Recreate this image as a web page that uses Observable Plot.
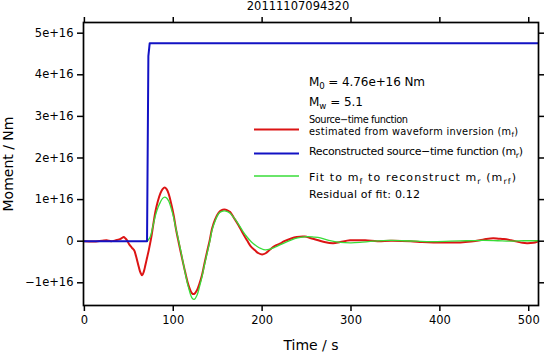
<!DOCTYPE html>
<html><head><meta charset="utf-8">
<script src="https://cdn.jsdelivr.net/npm/d3@7"></script>
<script src="https://cdn.jsdelivr.net/npm/@observablehq/plot@0.6"></script>
<style>
html,body{margin:0;padding:0;background:#fff;}
svg text{font-family:"DejaVu Sans",sans-serif;}
</style>
</head><body><div id="chart"></div>
<script>
// ---- text ----
const title = "20111107094320";
const xLabel = "Time / s";
const yLabel = "Moment / Nm";
const M0text = "4.76e+16 Nm";
const MwText = "5.1";
const residualText = "0.12";

// ---- scales / ticks ----
const UNIT = 1e16;                 // values below are in units of 1e16 Nm
const xTicks = [0, 100, 200, 300, 400, 500];
const yTicks = [-1, 0, 1, 2, 3, 4, 5];

// ---- series: source-time function estimated from waveform inversion (m_f) ----
const redT = [0,10,20,25,30,35,40,42.4,44.2,46,48,50,52,54,56,58,61,63,65,67,68.6,70.5,72.4,75,77.5,80,82.5,85.5,88,90.4,92.5,94.8,97.5,100.5,103,106,110,113.6,117,121,123.5,126.7,129.5,132.3,135,138,141,143.6,147,151,154,157.5,161,164,168,173.6,178,183,187,192,196,200,204,209,214,220,225,232,239,248,255,262,270,280,288,299,316,330,345,367,380,393,410,423,435,445,452,460,466,472,480,487,493,498,505,511];
const redV = [0,-0.01,0.01,0.02,0,0.02,0.05,0.08,0.1,0.07,0.02,-0.06,-0.12,-0.17,-0.22,-0.35,-0.6,-0.75,-0.82,-0.72,-0.58,-0.4,-0.22,0.06,0.4,0.72,0.95,1.15,1.25,1.29,1.25,1.14,0.92,0.62,0.3,-0.02,-0.42,-0.76,-1.05,-1.25,-1.27,-1.18,-1.02,-0.82,-0.55,-0.26,0.02,0.3,0.52,0.68,0.74,0.76,0.74,0.7,0.57,0.38,0.2,0.02,-0.12,-0.22,-0.29,-0.32,-0.29,-0.2,-0.12,-0.06,0,0.06,0.1,0.11,0.07,0.03,-0.02,-0.05,-0.02,0.02,0.02,0,0.01,0,-0.02,-0.03,-0.03,-0.03,-0.01,0.02,0.05,0.07,0.06,0.05,0.02,-0.01,-0.04,-0.05,-0.04,0];

// ---- reconstructed source-time function (m_r) ----
const blueT = [0, 70.5, 72, 73.5, 511];
const blueV = [0, 0, 4.45, 4.76, 4.76];

// ---- fit to m_f to reconstruct m_r (m_rf) ----
const greenT = [71,74,77,80,83,85.5,88,90.4,92.5,95,97.5,100.5,103,106,110,113.6,117,121,123.5,126.7,129.5,132.3,135,138,141,143.6,147,151,154,157.5,161,164,168,173.6,178,183,188,194,199,203.6,209,215,222,231.7,240,250,258,265.5,275,288,300,310,325,344,360,374,390,412,430,449,465,479,495,511];
const greenV = [0,0.1,0.35,0.62,0.82,0.94,1.03,1.06,1.04,0.96,0.8,0.56,0.3,0.02,-0.4,-0.78,-1.1,-1.36,-1.4,-1.3,-1.1,-0.86,-0.58,-0.3,-0.02,0.26,0.48,0.66,0.71,0.73,0.71,0.67,0.57,0.4,0.25,0.1,-0.02,-0.12,-0.18,-0.21,-0.19,-0.14,-0.07,0.02,0.08,0.11,0.1,0.08,0.02,-0.03,-0.04,-0.03,0,0.02,0.01,0,-0.01,0,0.01,0.02,0.01,0,0.01,0.01];

const colRed = "#dc1414", colBlue = "#1212c4", colGreen = "#38dc38";

const rows = (T, V) => T.map((t, i) => ({t, v: V[i] * UNIT}));
const fmtY = v => {
  const n = Math.round(v / UNIT);
  if (n === 0) return "0";
  return (n < 0 ? "\u2212" : "") + Math.abs(n) + "e+16";
};

const chart = Plot.plot({
  width: 544, height: 353,
  marginLeft: 83, marginRight: 6, marginTop: 22, marginBottom: 48,
  style: {fontFamily: "'DejaVu Sans', sans-serif", fontSize: "11.5px", background: "#fff", color: "#000", overflow: "visible"},
  x: {domain: [-1, 511], label: null},
  y: {domain: [-1.546e16, 5.257e16], label: null},
  marks: [
    Plot.line(rows(redT, redV), {x: "t", y: "v", stroke: colRed, strokeWidth: 2, curve: "catmull-rom", clip: true}),
    Plot.line(rows(greenT, greenV), {x: "t", y: "v", stroke: colGreen, strokeWidth: 1.3, curve: "catmull-rom", clip: true}),
    Plot.line(rows(blueT, blueV), {x: "t", y: "v", stroke: colBlue, strokeWidth: 2, clip: true}),
    Plot.frame({stroke: "#000", strokeWidth: 1.7}),
    Plot.axisX({anchor: "bottom", ticks: xTicks, tickSize: 6, tickPadding: 4, label: null, strokeWidth: 1.5, tickFormat: d => String(d)}),
    Plot.axisX({anchor: "top", ticks: xTicks, tickSize: 6, label: null, strokeWidth: 1.5, tickFormat: () => ""}),
    Plot.axisY({anchor: "left", ticks: yTicks.map(d => d * UNIT), tickSize: 6, tickPadding: 4, label: null, strokeWidth: 1.5, tickFormat: fmtY}),
    Plot.axisY({anchor: "right", ticks: yTicks.map(d => d * UNIT), tickSize: 6, label: null, strokeWidth: 1.5, tickFormat: () => ""})
  ]
});
document.getElementById("chart").appendChild(chart);

// ---- annotations ----
const svg = d3.select(chart);
const g = svg.append("g").attr("fill", "#000").attr("text-anchor", "start");
g.append("text").attr("x", 298).attr("y", 10).attr("text-anchor", "middle")
  .style("font-size", "11.5px").text(title);
g.append("text").attr("x", 311).attr("y", 350).attr("text-anchor", "middle")
  .style("font-size", "14px").text(xLabel);
g.append("text").attr("transform", "translate(13,164) rotate(-90)").attr("text-anchor", "middle")
  .style("font-size", "14px").text(yLabel);

// legend: parts = [text, isSubscript]
function rich(x, y, size, parts, width) {
  const t = g.append("text").attr("x", x).attr("y", y).attr("text-anchor", "start")
    .style("font-size", size + "px");
  let sub = false;
  parts.forEach(([s, isSub]) => {
    const ts = t.append("tspan").text(s);
    if (isSub && !sub) { ts.attr("dy", size * 0.3).style("font-size", (size * 0.72) + "px"); sub = true; }
    else if (!isSub && sub) { ts.attr("dy", -size * 0.3); sub = false; }
    else if (isSub) ts.style("font-size", (size * 0.72) + "px");
  });
  if (width) t.attr("textLength", width).attr("lengthAdjust", "spacing");
  return t;
}
const lx = 309;
rich(lx, 85.5, 12, [["M"], ["0", true], [" = " + M0text]], 116);
rich(lx, 105.5, 12, [["M"], ["w", true], [" = " + MwText]], 54);
rich(lx, 123, 9.8, [["Source\u2212time function"]], 99);
rich(lx, 134.5, 9.8, [["estimated from waveform inversion (m"], ["f", true], [")"]], 209);
rich(lx, 155, 11, [["Reconstructed source\u2212time function (m"], ["r", true], [")"]], 214);
rich(lx, 180.5, 11, [["Fit to m"], ["f", true], [" to reconstruct m"], ["r", true], [" (m"], ["rf", true], [")"]], 207);
rich(lx, 198, 11, [["Residual of fit: " + residualText]], 111);

const legendLines = [[colRed, 129.5, 2], [colBlue, 153.5, 2], [colGreen, 176, 1.3]];
legendLines.forEach(([c, y, w]) => {
  g.append("line").attr("x1", 254).attr("x2", 299).attr("y1", y).attr("y2", y)
    .attr("stroke", c).attr("stroke-width", w);
});
</script>
</body></html>
